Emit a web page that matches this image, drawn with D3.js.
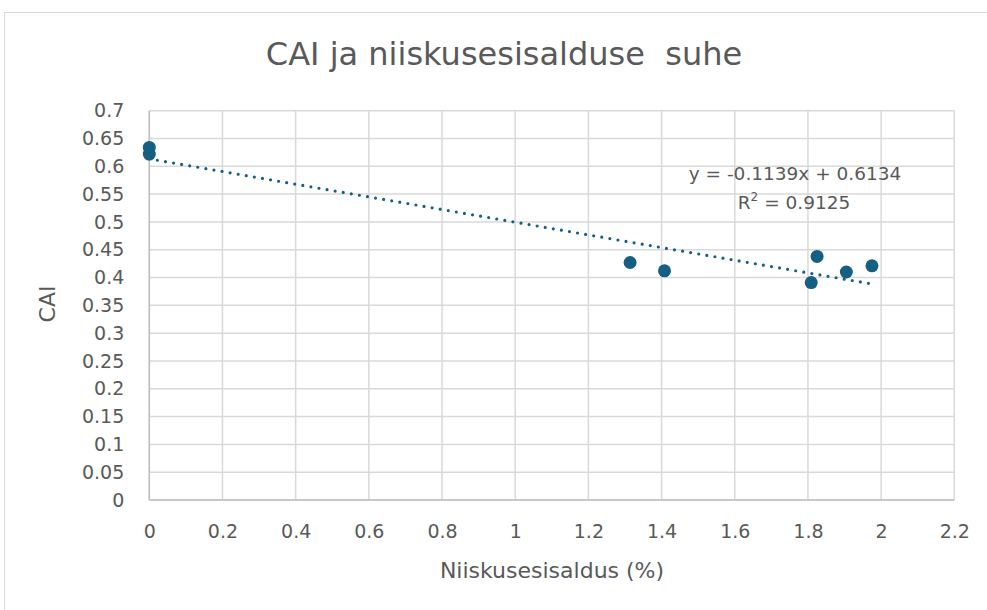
<!DOCTYPE html>
<html>
    <head>
        <script src="https://d3js.org/d3.v7.min.js"></script>
        <style>
            body { margin: 0; background: #fff; }
            text { font-family: 'DejaVu Sans', Verdana, sans-serif; fill: #595959; }
        </style>
    </head>
    <body>
        <script>
            const title = 'CAI ja niiskusesisalduse\u00a0 suhe'
            const xLabel = 'Niiskusesisaldus (%)'
            const yLabel = 'CAI'

            const moisture = [0, 0, 1.314, 1.408, 1.809, 1.825, 1.905, 1.975]
            const cai = [0.634, 0.622, 0.427, 0.412, 0.391, 0.438, 0.410, 0.421]

            const xTicks = [0, 0.2, 0.4, 0.6, 0.8, 1, 1.2, 1.4, 1.6, 1.8, 2, 2.2]
            const yTicks = [0, 0.05, 0.1, 0.15, 0.2, 0.25, 0.3, 0.35, 0.4, 0.45, 0.5, 0.55, 0.6, 0.65, 0.7]

            const slope = -0.1139
            const intercept = 0.6134
            const rSquared = 0.9125

            const svg = d3.select('body').append('svg')
                .attr('width', 987).attr('height', 610)

            // chart frame
            svg.append('rect')
                .attr('x', 4.5).attr('y', 12.5)
                .attr('width', 1000).attr('height', 620)
                .attr('fill', 'none').attr('stroke', '#d9d9d9')

            const margin = { top: 110.7, left: 149.3, right: 954.3, bottom: 500 }

            const xScale = d3.scaleLinear().domain([0, 2.2]).range([margin.left, margin.right])
            const yScale = d3.scaleLinear().domain([0, 0.7]).range([margin.bottom, margin.top])

            const g = svg.append('g')

            // grid
            g.selectAll('.vgrid').data(xTicks).enter()
                .append('line')
                .attr('x1', d => xScale(d)).attr('x2', d => xScale(d))
                .attr('y1', yScale(0)).attr('y2', yScale(0.7))
                .attr('stroke', '#d9d9d9').attr('stroke-width', 1.5)

            g.selectAll('.hgrid').data(yTicks).enter()
                .append('line')
                .attr('x1', xScale(0)).attr('x2', xScale(2.2))
                .attr('y1', d => yScale(d)).attr('y2', d => yScale(d))
                .attr('stroke', '#d9d9d9').attr('stroke-width', 1.5)

            // axis lines
            g.append('line')
                .attr('x1', xScale(0)).attr('x2', xScale(2.2))
                .attr('y1', yScale(0)).attr('y2', yScale(0))
                .attr('stroke', '#bfbfbf').attr('stroke-width', 1.5)
            g.append('line')
                .attr('x1', xScale(0)).attr('x2', xScale(0))
                .attr('y1', yScale(0)).attr('y2', yScale(0.7))
                .attr('stroke', '#bfbfbf').attr('stroke-width', 1.5)

            // tick labels via axes
            const xAxis = d3.axisBottom(xScale).tickValues(xTicks).tickSize(0).tickPadding(25).tickFormat(d3.format('~g'))
            const yAxis = d3.axisLeft(yScale).tickValues(yTicks).tickSize(0).tickPadding(25).tickFormat(d3.format('~g'))

            const gx = svg.append('g').attr('transform', `translate(0, ${margin.bottom})`).call(xAxis)
            const gy = svg.append('g').attr('transform', `translate(${margin.left}, 0)`).call(yAxis)
            ;[gx, gy].forEach(a => {
                a.attr('font-family', null).attr('font-size', null)
                a.select('.domain').remove()
                a.selectAll('text').attr('font-size', 19).attr('fill', '#595959')
            })

            // trendline
            const xMax = d3.max(moisture)
            svg.append('line')
                .attr('x1', xScale(0)).attr('y1', yScale(intercept))
                .attr('x2', xScale(xMax)).attr('y2', yScale(intercept + slope * xMax))
                .attr('stroke', '#156082').attr('stroke-width', 3.2)
                .attr('stroke-linecap', 'round')
                .attr('stroke-dasharray', '0 8.2')

            // points
            svg.selectAll('.point')
                .data(moisture.map((m, i) => ({ x: m, y: cai[i] }))).enter()
                .append('circle')
                .attr('class', 'point')
                .attr('cx', d => xScale(d.x))
                .attr('cy', d => yScale(d.y))
                .attr('r', 6.5)
                .attr('fill', '#156082')

            // equation
            svg.append('text')
                .attr('x', 795).attr('y', 180)
                .attr('text-anchor', 'middle').attr('font-size', 18.5)
                .text(`y = ${slope}x + ${intercept}`)
            const r2 = svg.append('text')
                .attr('x', 794).attr('y', 209)
                .attr('text-anchor', 'middle').attr('font-size', 18.5)
            r2.append('tspan').text('R')
            r2.append('tspan').attr('dy', -8).attr('font-size', 12).text('2')
            r2.append('tspan').attr('dy', 8).text(` = ${rSquared}`)

            // titles
            svg.append('text')
                .attr('x', 504).attr('y', 65)
                .attr('text-anchor', 'middle').attr('font-size', 32)
                .text(title)

            svg.append('text')
                .attr('x', 552).attr('y', 578)
                .attr('text-anchor', 'middle').attr('font-size', 22)
                .text(xLabel)

            svg.append('text')
                .attr('transform', 'translate(55, 304) rotate(-90)')
                .attr('text-anchor', 'middle').attr('font-size', 22)
                .text(yLabel)
        </script>
    </body>
</html>
